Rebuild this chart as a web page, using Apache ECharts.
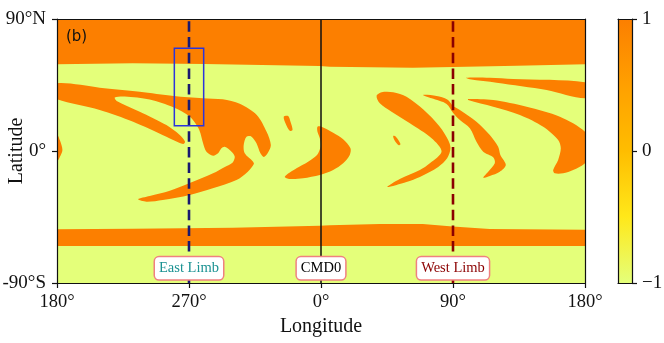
<!DOCTYPE html>
<html>
<head>
<meta charset="utf-8">
<style>html,body{margin:0;padding:0;background:#fff}#main{width:664px;height:343px}</style>
<script src="https://cdn.jsdelivr.net/npm/echarts@6/dist/echarts.min.js"></script>
</head>
<body>
<div id="main"></div>
<script>
'use strict';
/* regions where the map value is +1, [longitude, latitude]; everything else is -1 */
var northCap = [[-180, 90], [180, 90], [180, 59.1], [133.5, 58.2], [89.8, 57.3], [62.6, 56.8], [6, 57.5], [-1, 58], [-79.3, 59.3], [-128.4, 59.8], [-180, 59.1]];
var southBand = [[-180, -53.4], [-128.4, -53], [-60.2, -52.3], [-1, -51], [6, -50.7], [40, -49.8], [69.4, -49.8], [89.8, -51.4], [115, -53.2], [180, -53.7], [180, -64.8], [-180, -64.8]];
var westArm = [[-180, 46.2], [-150.9, 43.2], [-123.6, 40.4], [-100.4, 37.5], [-80.6, 36], [-67, 35.2], [-55.4, 32.2], [-43.8, 24.6], [-37, 13], [-34.2, 4.1], [-36.3, -1.4], [-39, -4.1], [-41.3, -1.6], [-44, 5.3], [-47.4, 9.8], [-50.8, 9.8], [-52.7, 4.1], [-52, -1.6], [-46.3, -7.3], [-45.8, -8.9], [-49.9, -14.1], [-57.6, -19.8], [-73.8, -25.4], [-89.5, -30], [-107.9, -33.4], [-119, -34.6], [-124.7, -32.9], [-116.8, -30.7], [-103.1, -27.1], [-89.5, -21.8], [-73.6, -15.2], [-65.6, -10.9], [-60.2, -7.8], [-58.8, -3.9], [-61, -0.5], [-65.6, 2.9], [-67.9, 1.8], [-70.2, -1.6], [-73.6, -3.2], [-78.1, -0.5], [-80.4, 5.3], [-82.2, 12.1], [-84, 16.4], [-89.5, 23.5], [-100.4, 29.7], [-116.8, 35.1], [-133.8, 37.2], [-140.6, 36.5], [-139.3, 34.1], [-123.6, 26.8], [-105.4, 17.7], [-96.3, 10.9], [-92.7, 6.3], [-94, 4.8], [-105.4, 9.8], [-128.1, 20], [-150.9, 28], [-180, 35.3], [-186, 40]];
var edgeBlob = [[-180, 10.9], [-178.1, 7.5], [-176.3, 0.7], [-178.1, -4.1], [-180, -6.8], [-186, 2]];
var spotWest = [[-25.4, 23.4], [-22.4, 23.9], [-20.8, 20], [-19.4, 14.3], [-21.3, 13.8], [-24, 18.4]];
var centreCrescent = [[-2.4, 16.6], [0.3, 16.6], [8.3, 12.5], [15.1, 8], [20.1, 1.8], [19.6, -2.7], [15.1, -8.4], [8.3, -13], [-0.8, -16.4], [-12.2, -18.6], [-21.3, -19.1], [-24.7, -17.5], [-16.7, -11.8], [-8.8, -7.3], [-2.7, -2.7], [-0.3, 2.9], [-0.8, 8.7], [-2.4, 13.2]];
var eastCrescent = [[37.9, 37.5], [41.3, 40], [49.2, 40], [58.3, 37], [69.6, 28.4], [81, 16.6], [86.7, 7.5], [88.3, 1.8], [86, -5], [79.9, -10.9], [67.4, -17.7], [58.3, -21.1], [45.1, -24.6], [53.7, -19.1], [67.4, -13], [74.2, -8.4], [82.2, -0.3], [75.4, 8.7], [60.6, 18.9], [48.1, 26.8], [40.1, 32.5]];
var spotEast = [[49.2, 10.2], [51, 9.8], [54.2, 4.8], [53, 3.9], [50.3, 7]];
var limbStrand = [[69.6, 38.2], [78.8, 37.5], [86.1, 35.1], [90.1, 30.7], [94.7, 28], [106, 20], [115.1, 10.9], [120.8, 2.9], [122.3, -2.7], [126, -9.5], [121.9, -14.1], [115.1, -17], [110.6, -18.2], [114, -14.1], [118.5, -8.4], [117.4, -4.3], [110.6, -0.5], [106, 6.3], [101.5, 15.5], [94.7, 21.1], [90.1, 25.9], [85.6, 32.1], [75.4, 35.9]];
var upperStrand = [[98.8, 50], [115.1, 50], [131, 49.1], [180, 46.9], [186, 41], [180, 35.9], [153.8, 41.6], [119.7, 46.6], [101.5, 48.9]];
var rightArm = [[100.3, 35.5], [117.4, 34.8], [140.2, 30.2], [162.9, 23.4], [180, 13.2], [186, 2], [180, -8.4], [171.9, -13], [165.1, -15.2], [159.4, -15.2], [158.3, -13], [161.7, -6.1], [163.5, 1.8], [161.7, 7.5], [151.5, 16.6], [135.6, 24.6], [117.4, 30.2], [100.3, 34.8]];
var bands = [northCap, southBand];
var islands = [westArm, edgeBlob, spotWest, centreCrescent, eastCrescent, spotEast, limbStrand, upperStrand, rightArm];

var boxOutline = [[-100, 70], [-80, 70], [-80, 17.3], [-100, 17.3]];
var eastLimb = [[-90, -90], [-90, 90]];
var cmdLine = [[0, -90], [0, 90]];
var westLimb = [[90, -90], [90, 90]];
var limbLabels = ['East Limb', 'CMD0', 'West Limb'];
var limbLabelLons = [-90, 0, 90];
var limbLabelColors = ['#1b9292', '#000', '#8b0000'];
var limbLabelLat = -80;

var xTicks = { '-180': '180°', '-90': '270°', '0': '0°', '90': '90°', '180': '180°' };
var yTicks = { '90': '90°N', '0': '0°', '-90': '-90°S' };
var barTicks = { '1': '1', '0': '0', '-1': '−1' };
var barRange = [-1, 1];
/* Wistia colour map, low to high */
var wistia = ['#e4ff7a', '#ffe81a', '#ffbd00', '#ffa000', '#fc7f00'];

var serif = '"Liberation Serif", "Times New Roman", serif';

function polygonItem(points, smooth, style) {
  return function(params, api) {
    return {
      type: 'polygon',
      shape: { points: points.map(function(p) { return api.coord(p); }), smooth: smooth },
      style: style
    };
  };
}

function regionSeries(points, smooth) {
  return {
    type: 'custom',
    coordinateSystem: 'cartesian2d',
    clip: true,
    silent: true,
    z: 2,
    data: [0],
    renderItem: polygonItem(points, smooth, { fill: wistia[4] })
  };
}

function limbLine(data, color, width, type) {
  return {
    type: 'line',
    data: data,
    symbol: 'none',
    silent: true,
    z: 4,
    lineStyle: { color: color, width: width, type: type, cap: 'butt' }
  };
}

var series = bands.map(function(b) { return regionSeries(b, 0); })
  .concat(islands.map(function(b) { return regionSeries(b, 0.3); }));
series.push(limbLine(eastLimb, '#191970', 2.6, [10.5, 5.2]));
series.push(limbLine(westLimb, '#8b0000', 2.6, [10.5, 5.2]));
series.push(limbLine(cmdLine, '#111', 1.5, 'solid'));
series.push({
  type: 'custom',
  silent: true,
  z: 5,
  data: [0],
  renderItem: polygonItem(boxOutline, 0, { fill: 'none', stroke: '#2a35dc', lineWidth: 1.5 })
});
series.push({
  type: 'scatter',
  symbolSize: 0,
  silent: true,
  z: 8,
  itemStyle: { opacity: 1 },
  data: limbLabels.map(function(name, i) {
    return {
      value: [limbLabelLons[i], limbLabelLat],
      label: {
        show: true,
        position: 'inside',
        formatter: name,
        color: limbLabelColors[i],
        fontFamily: serif,
        fontSize: 14.5,
        backgroundColor: '#fff',
        borderColor: '#f08080',
        borderWidth: 1.5,
        borderRadius: 4,
        padding: [4, 4, 3, 4]
      }
    };
  })
});
/* colour bar */
series.push({
  type: 'custom',
  xAxisIndex: 2,
  yAxisIndex: 2,
  silent: true,
  data: [0],
  renderItem: function(params, api) {
    var a = api.coord([0, barRange[1]]);
    var b = api.coord([1, barRange[0]]);
    return {
      type: 'rect',
      shape: { x: a[0], y: a[1], width: b[0] - a[0], height: b[1] - a[1] },
      style: {
        fill: new echarts.graphic.LinearGradient(0, 1, 0, 0, wistia.map(function(c, i) {
          return { offset: i / (wistia.length - 1), color: c };
        }))
      }
    };
  }
});

var frameLine = { show: true, onZero: false, lineStyle: { color: '#111', width: 1.2 } };
var tickStyle = { show: true, length: 5, lineStyle: { color: '#111', width: 1.2 } };

var option = {
  animation: false,
  backgroundColor: '#fff',
  title: {
    text: '(b)',
    left: 66,
    top: 30,
    padding: 0,
    textStyle: { fontFamily: '"DejaVu Sans"', fontSize: 15, fontWeight: 'normal', color: '#111' }
  },
  grid: [{
    left: 57,
    top: 19,
    width: 528,
    height: 264,
    show: true,
    backgroundColor: wistia[0],
    borderWidth: 0,
    outerBoundsMode: 'none'
  }, {
    left: 618,
    top: 19,
    width: 14,
    height: 264,
    show: false,
    outerBoundsMode: 'none'
  }],
  xAxis: [{
    type: 'value',
    gridIndex: 0,
    min: -180,
    max: 180,
    interval: 90,
    z: 6,
    splitLine: { show: false },
    axisLine: frameLine,
    axisTick: tickStyle,
    axisLabel: { margin: 10, color: '#111', fontFamily: serif, fontSize: 18.5, formatter: function(v) { return xTicks[v]; } },
    name: 'Longitude',
    nameLocation: 'middle',
    nameGap: 34,
    nameMoveOverlap: false,
    nameTextStyle: { color: '#111', fontFamily: serif, fontSize: 20 }
  }, {
    type: 'value',
    gridIndex: 0,
    position: 'top',
    min: -180,
    max: 180,
    z: 6,
    splitLine: { show: false },
    axisLine: frameLine,
    axisTick: { show: false },
    axisLabel: { show: false }
  }, {
    type: 'value',
    gridIndex: 1,
    min: 0,
    max: 1,
    z: 6,
    splitLine: { show: false },
    axisLine: frameLine,
    axisTick: { show: false },
    axisLabel: { show: false }
  }, {
    type: 'value',
    gridIndex: 1,
    position: 'top',
    min: 0,
    max: 1,
    z: 6,
    splitLine: { show: false },
    axisLine: frameLine,
    axisTick: { show: false },
    axisLabel: { show: false }
  }],
  yAxis: [{
    type: 'value',
    gridIndex: 0,
    min: -90,
    max: 90,
    interval: 90,
    z: 6,
    splitLine: { show: false },
    axisLine: frameLine,
    axisTick: tickStyle,
    axisLabel: { margin: 11, color: '#111', fontFamily: serif, fontSize: 19, formatter: function(v) { return yTicks[v]; } },
    name: 'Latitude',
    nameLocation: 'middle',
    nameGap: 30,
    nameRotate: 90,
    nameMoveOverlap: false,
    nameTextStyle: { color: '#111', fontFamily: serif, fontSize: 20 }
  }, {
    type: 'value',
    gridIndex: 0,
    position: 'right',
    min: -90,
    max: 90,
    z: 6,
    splitLine: { show: false },
    axisLine: frameLine,
    axisTick: { show: false },
    axisLabel: { show: false }
  }, {
    type: 'value',
    gridIndex: 1,
    position: 'right',
    min: -1,
    max: 1,
    interval: 1,
    z: 6,
    splitLine: { show: false },
    axisLine: frameLine,
    axisTick: tickStyle,
    axisLabel: { margin: 10, color: '#111', fontFamily: serif, fontSize: 19, formatter: function(v) { return barTicks[v]; } }
  }, {
    type: 'value',
    gridIndex: 1,
    position: 'left',
    min: -1,
    max: 1,
    z: 6,
    splitLine: { show: false },
    axisLine: frameLine,
    axisTick: { show: false },
    axisLabel: { show: false }
  }],
  series: series
};

var chart = echarts.init(document.getElementById('main'), null, { renderer: 'canvas' });
chart.setOption(option);
</script>
</body>
</html>
